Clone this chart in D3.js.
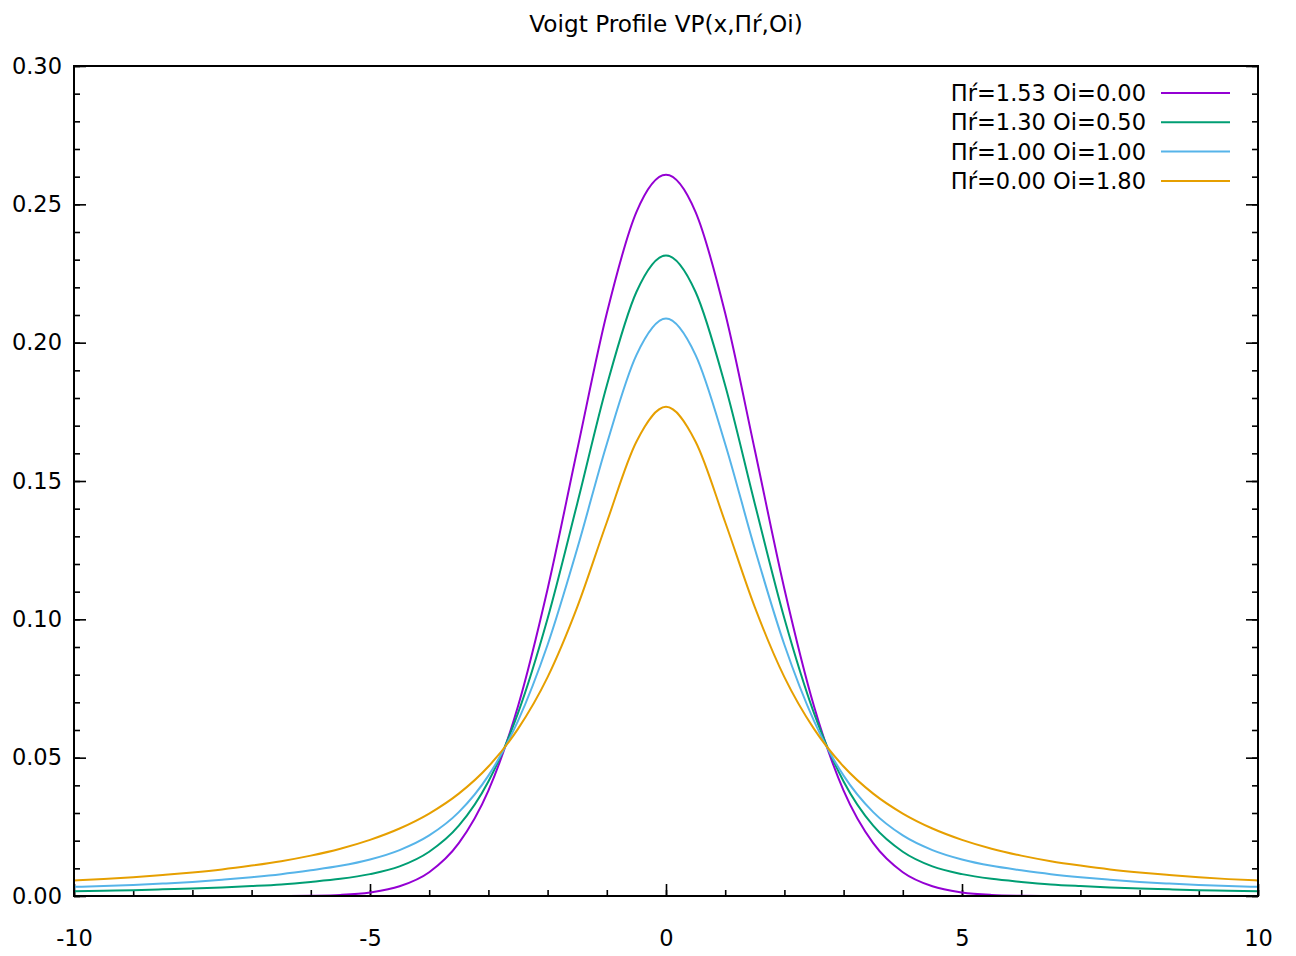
<!DOCTYPE html>
<html lang="en">

<head>
    <meta charset="UTF-8">
    <title>Voigt Profile</title>
    <style>
        body { margin: 0; background: #fff; }
        text { font-family: "DejaVu Sans", Verdana, sans-serif; }
    </style>
</head>

<body>
    <div class="canvas"></div>
    <script src="https://cdnjs.cloudflare.com/ajax/libs/d3/7.8.2/d3.min.js"></script>
    <script>
        // values, x from -10 to 10 in steps of 0.5
        const xs = [-10, -9.5, -9, -8.5, -8, -7.5, -7, -6.5, -6, -5.5, -5, -4.5, -4, -3.5, -3, -2.5, -2, -1.5, -1, -0.5,
            0, 0.5, 1, 1.5, 2, 2.5, 3, 3.5, 4, 4.5, 5, 5.5, 6, 6.5, 7, 7.5, 8, 8.5, 9, 9.5, 10];

        const purple = [0, 0, 0, 0, 0, 0, 0, 0, 0.0001, 0.0004, 0.0013, 0.0035, 0.0086, 0.0191, 0.0381, 0.0686, 0.1110, 0.1612, 0.2106, 0.2472,
            0.2607, 0.2472, 0.2106, 0.1612, 0.1110, 0.0686, 0.0381, 0.0191, 0.0086, 0.0035, 0.0013, 0.0004, 0.0001, 0, 0, 0, 0, 0, 0, 0, 0];

        const green = [0.0017, 0.0019, 0.0021, 0.0024, 0.0027, 0.0031, 0.0036, 0.0042, 0.0051, 0.0062, 0.0079, 0.0107, 0.0160, 0.0254, 0.0414, 0.0661, 0.1003, 0.1418, 0.1845, 0.2183,
            0.2315, 0.2183, 0.1845, 0.1418, 0.1003, 0.0661, 0.0414, 0.0254, 0.0160, 0.0107, 0.0079, 0.0062, 0.0051, 0.0042, 0.0036, 0.0031, 0.0027, 0.0024, 0.0021, 0.0019, 0.0017];

        const blue = [0.0033, 0.0036, 0.0040, 0.0045, 0.0051, 0.0059, 0.0068, 0.0079, 0.0093, 0.0109, 0.0132, 0.0166, 0.0219, 0.0303, 0.0435, 0.0633, 0.0908, 0.1255, 0.1634, 0.1955,
            0.2087, 0.1955, 0.1634, 0.1255, 0.0908, 0.0633, 0.0435, 0.0303, 0.0219, 0.0166, 0.0132, 0.0109, 0.0093, 0.0079, 0.0068, 0.0059, 0.0051, 0.0045, 0.0040, 0.0036, 0.0033];

        const orange = [0.0056, 0.0061, 0.0068, 0.0076, 0.0085, 0.0096, 0.0110, 0.0126, 0.0146, 0.0171, 0.0203, 0.0244, 0.0298, 0.0370, 0.0468, 0.0604, 0.0791, 0.1044, 0.1351, 0.1642,
            0.1768, 0.1642, 0.1351, 0.1044, 0.0791, 0.0604, 0.0468, 0.0370, 0.0298, 0.0244, 0.0203, 0.0171, 0.0146, 0.0126, 0.0110, 0.0096, 0.0085, 0.0076, 0.0068, 0.0061, 0.0056];

        const labels = ["Πŕ=1.53 Oi=0.00", "Πŕ=1.30 Oi=0.50", "Πŕ=1.00 Oi=1.00", "Πŕ=0.00 Oi=1.80"];
        const colors = ["#9400d3", "#009e73", "#56b4e9", "#e69f00"];
        const xTicks = [-10, -5, 0, 5, 10];
        const yTicks = [0, 0.05, 0.10, 0.15, 0.20, 0.25, 0.30];

        const series = [purple, green, blue, orange].map((vals, i) => ({
            label: labels[i],
            color: colors[i],
            points: xs.map((x, j) => [x, vals[j]])
        }));

        const width = 1296;
        const height = 956;
        const margin = { top: 66, right: 38, bottom: 60, left: 74 };
        const graphWidth = width - margin.left - margin.right;
        const graphHeight = height - margin.top - margin.bottom;
        const fontSize = "22.5px";

        const svg = d3.select(".canvas")
            .append("svg")
            .attr("width", width)
            .attr("height", height);

        const graph = svg.append("g").attr("transform", `translate(${margin.left}, ${margin.top})`);

        const x = d3.scaleLinear().domain([-10, 10]).range([0, graphWidth]);
        const y = d3.scaleLinear().domain([0, 0.30]).range([graphHeight, 0]);

        // title
        svg.append("text")
            .attr("x", margin.left + graphWidth / 2)
            .attr("y", 32)
            .attr("text-anchor", "middle")
            .attr("font-size", "23.2px")
            .text("Voigt Profile VP(x,Πŕ,Oi)");

        // minor ticks (inward)
        const minorX = d3.range(-10, 10.01, 1);
        const minorY = d3.range(0, 0.3001, 0.01);

        graph.append("g")
            .attr("transform", `translate(0, ${graphHeight})`)
            .call(d3.axisBottom(x).tickValues(minorX).tickSize(-6).tickFormat(""));
        graph.append("g")
            .call(d3.axisLeft(y).tickValues(minorY).tickSize(-6).tickFormat(""));
        graph.append("g")
            .attr("transform", `translate(${graphWidth}, 0)`)
            .call(d3.axisLeft(y).tickValues(minorY).tickSize(6).tickFormat(""));

        // major ticks + labels
        const xAxisGroup = graph.append("g")
            .attr("transform", `translate(0, ${graphHeight})`)
            .call(d3.axisBottom(x).tickValues(xTicks).tickSizeInner(-12).tickSizeOuter(0).tickPadding(34)
                .tickFormat(d => String(d)));
        const yAxisGroup = graph.append("g")
            .call(d3.axisLeft(y).tickValues(yTicks).tickSizeInner(-12).tickSizeOuter(0).tickPadding(12)
                .tickFormat(d3.format(".2f")));
        graph.append("g")
            .attr("transform", `translate(${graphWidth}, 0)`)
            .call(d3.axisLeft(y).tickValues(yTicks).tickSizeInner(12).tickSizeOuter(0).tickFormat(""));

        graph.selectAll(".domain").remove();
        graph.selectAll(".tick line").attr("stroke", "#000").attr("stroke-width", 1.6);
        xAxisGroup.selectAll("text").attr("font-size", fontSize).attr("fill", "#000")
            .attr("font-family", "DejaVu Sans, Verdana, sans-serif");
        yAxisGroup.selectAll("text").attr("font-size", fontSize).attr("fill", "#000")
            .attr("font-family", "DejaVu Sans, Verdana, sans-serif");

        // curves
        const line = d3.line()
            .x(d => x(d[0]))
            .y(d => y(d[1]))
            .curve(d3.curveMonotoneX);

        graph.selectAll(".curve")
            .data(series)
            .enter()
            .append("path")
            .attr("class", "curve")
            .attr("d", d => line(d.points))
            .attr("fill", "none")
            .attr("stroke", d => d.color)
            .attr("stroke-width", 2);

        // border
        graph.append("rect")
            .attr("width", graphWidth)
            .attr("height", graphHeight)
            .attr("fill", "none")
            .attr("stroke", "#000")
            .attr("stroke-width", 2);

        // legend
        const legend = graph.selectAll(".legend")
            .data(series)
            .enter()
            .append("g")
            .attr("class", "legend")
            .attr("transform", (d, i) => `translate(0, ${27 + i * 29.3})`);

        legend.append("text")
            .attr("x", 1072)
            .attr("y", 0)
            .attr("dy", "0.36em")
            .attr("text-anchor", "end")
            .attr("font-size", fontSize)
            .text(d => d.label);

        legend.append("line")
            .attr("x1", 1087)
            .attr("x2", 1156)
            .attr("stroke", d => d.color)
            .attr("stroke-width", 2);
    </script>
</body>

</html>
